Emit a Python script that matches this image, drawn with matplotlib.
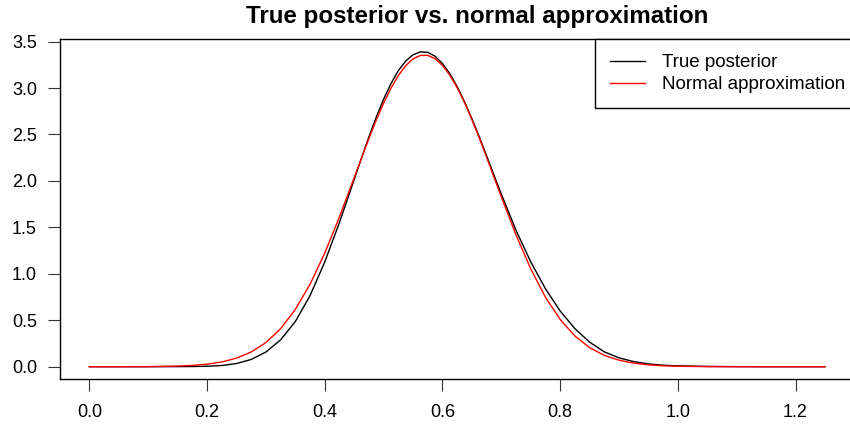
import numpy as np
import matplotlib
matplotlib.use("Agg")
import matplotlib.pyplot as plt

plt.rcParams['font.family'] = ['Liberation Sans', 'DejaVu Sans']

# valores (eje x = parametro, eje y = densidad)
x_vals = [0.000, 0.050, 0.100, 0.150, 0.175, 0.200, 0.225, 0.250, 0.275, 0.300,
          0.325, 0.350, 0.375, 0.400, 0.425, 0.450, 0.4625, 0.475, 0.4875, 0.500,
          0.5125, 0.525, 0.5375, 0.550, 0.5625, 0.575, 0.5875, 0.600, 0.6125, 0.625,
          0.6375, 0.650, 0.6625, 0.675, 0.6875, 0.700, 0.725, 0.750, 0.775, 0.800,
          0.825, 0.850, 0.875, 0.900, 0.925, 0.950, 0.975, 1.000, 1.050, 1.100,
          1.150, 1.200, 1.250]

posterior = [0.000, 0.000, 0.000, 0.001, 0.002, 0.005, 0.013, 0.034, 0.078, 0.158,
             0.289, 0.486, 0.765, 1.127, 1.553, 2.014, 2.247, 2.473, 2.686, 2.879,
             3.048, 3.186, 3.290, 3.358, 3.389, 3.384, 3.342, 3.264, 3.155, 3.016,
             2.853, 2.671, 2.476, 2.272, 2.064, 1.859, 1.469, 1.129, 0.840, 0.600,
             0.410, 0.265, 0.160, 0.095, 0.055, 0.030, 0.016, 0.009, 0.003, 0.001,
             0.000, 0.000, 0.000]

normal_aprox = [0.000, 0.000, 0.001, 0.007, 0.014, 0.027, 0.051, 0.092, 0.158, 0.260,
                0.409, 0.616, 0.887, 1.222, 1.613, 2.034, 2.247, 2.455, 2.654, 2.836,
                2.998, 3.134, 3.240, 3.313, 3.351, 3.352, 3.316, 3.244, 3.139, 3.004,
                2.843, 2.661, 2.464, 2.256, 2.042, 1.829, 1.419, 1.054, 0.748, 0.509,
                0.331, 0.206, 0.122, 0.070, 0.038, 0.020, 0.010, 0.005, 0.001, 0.000,
                0.000, 0.000, 0.000]

x_ticks = [0.0, 0.2, 0.4, 0.6, 0.8, 1.0, 1.2]
y_ticks = [0.0, 0.5, 1.0, 1.5, 2.0, 2.5, 3.0, 3.5]

fig = plt.figure(figsize=(8.5, 4.26), dpi=100)
ax = fig.add_axes([59.9 / 850, 46.7 / 426, 794.5 / 850, 340.0 / 426])

ax.plot(x_vals, posterior, color='black', lw=1.0, label='True posterior')
ax.plot(x_vals, normal_aprox, color='#ff0000', lw=1.0, label='Normal approximation')

ax.margins(x=0.04, y=0.04)
ax.set_xticks(x_ticks)
ax.set_xticklabels(["%.1f" % t for t in x_ticks])
ax.set_yticks(y_ticks)
ax.set_yticklabels(["%.1f" % t for t in y_ticks])
ax.tick_params(axis='both', labelsize=13, length=8.5, width=0.8, color='#333333')
ax.tick_params(axis='x', pad=9)
ax.tick_params(axis='y', pad=8)
for s in ax.spines.values():
    s.set_linewidth(1.0)

# la leyenda se sale un poco del borde derecho, como en la original
leg = ax.legend(loc='upper right', bbox_to_anchor=(1.0 + 6 / 794.5, 1.0),
                borderaxespad=0, fontsize=13.5, fancybox=False,
                edgecolor='black', framealpha=1, handlelength=1.9, handletextpad=0.9,
                borderpad=0.8, labelspacing=0.25)
leg.get_frame().set_linewidth(1.0)

fig.text(477 / 850, 1 - 17 / 426, 'True posterior vs. normal approximation',
         ha='center', va='center', fontsize=17.4, fontweight='bold')

fig.savefig('out.png', dpi=100)
